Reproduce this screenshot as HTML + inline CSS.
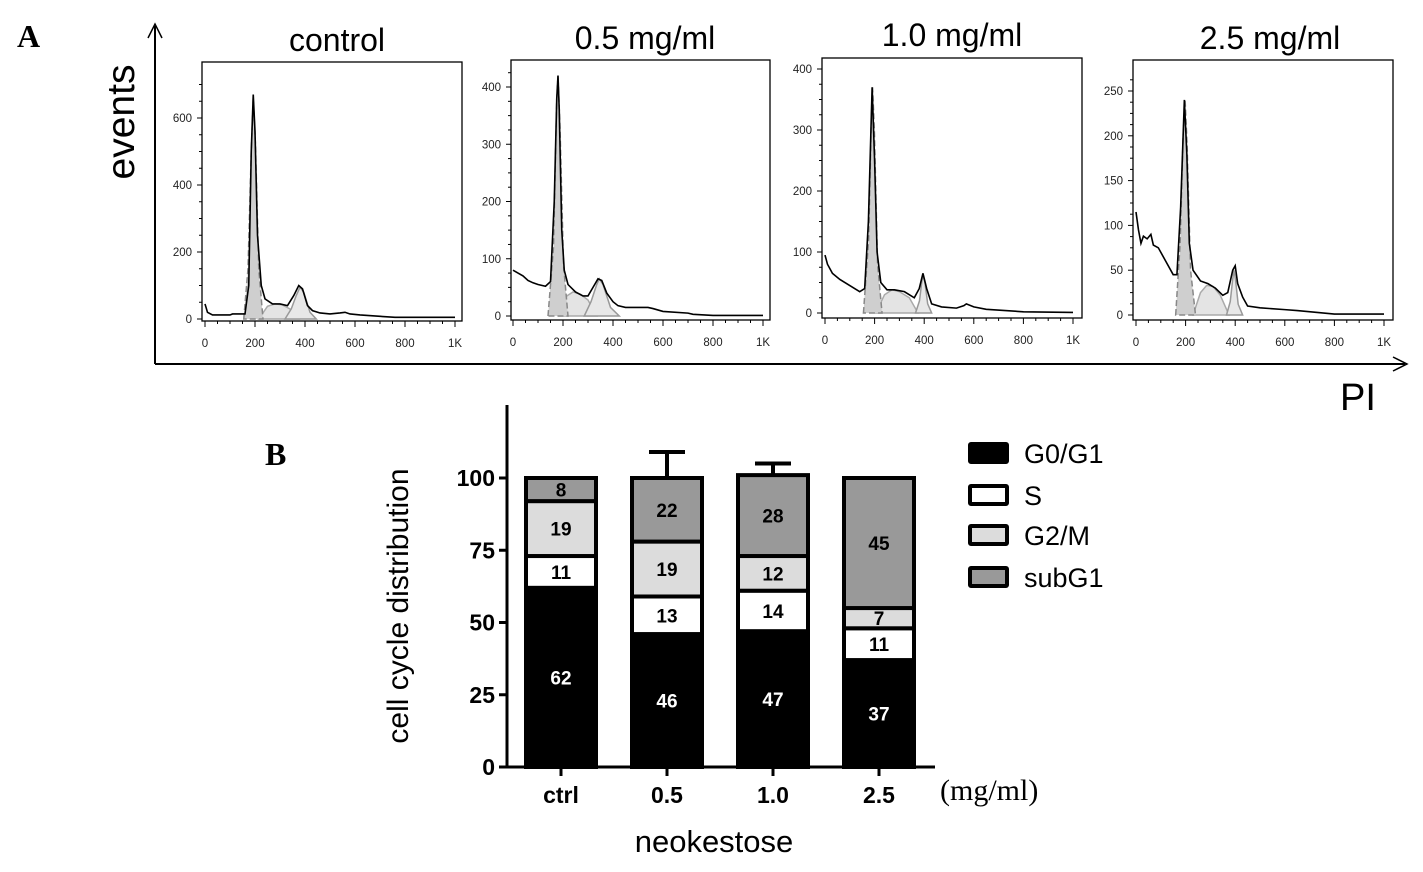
<!DOCTYPE html>
<html><head><meta charset="utf-8"><style>
html,body{margin:0;padding:0;background:#fff;}
svg{display:block;font-family:"Liberation Sans",sans-serif;}
</style></head><body>
<svg id="fig" width="1423" height="872" viewBox="0 0 1423 872" xmlns="http://www.w3.org/2000/svg">
<text x="17" y="47" font-family="Liberation Serif" font-weight="bold" font-size="32">A</text>
<g>
<line x1="155" y1="26" x2="155" y2="364" stroke="#000" stroke-width="2"/>
<polyline points="148,38 155,24 162,38" fill="none" stroke="#000" stroke-width="1.5"/>
<line x1="155" y1="364" x2="1405" y2="364" stroke="#000" stroke-width="2"/>
<polyline points="1393,357 1407,364 1393,371" fill="none" stroke="#000" stroke-width="1.5"/>
</g>
<text transform="translate(134,122) rotate(-90)" text-anchor="middle" font-size="39">events</text>
<text x="1340" y="410" font-size="38">PI</text>
<g id="hists"></g>
<text x="265" y="465" font-family="Liberation Serif" font-weight="bold" font-size="32">B</text>
<g id="bars"></g>
</svg>
<script>
const NS='http://www.w3.org/2000/svg';
function mk(tag,attrs,parent){const e=document.createElementNS(NS,tag);for(const k in attrs)e.setAttribute(k,attrs[k]);parent.appendChild(e);return e;}

// ---------- Panel A histogram data ----------
const histTitles=['control','0.5 mg/ml','1.0 mg/ml','2.5 mg/ml'];
const histYMax=[700,440,410,270];
const histYStep=[200,100,100,50];
const histXTicks=[0,200,400,600,800,1000];
const histXTickLabels=['0','200','400','600','800','1K'];
// histogram line (channel, events)
const lineCh1=[0,10,30,100,110,160,175,185,193,200,210,225,240,270,300,330,355,375,390,410,430,460,500,540,560,580,620,700,760,1000];
const lineV1=[45,20,12,12,15,15,100,500,670,560,250,100,60,45,45,40,70,100,90,40,25,18,15,18,20,15,12,8,5,5];
const lineCh2=[0,20,40,60,80,100,130,150,165,175,180,185,195,205,220,250,280,300,320,340,355,375,400,420,450,500,540,560,600,700,720,800,1000];
const lineV2=[80,75,70,62,58,55,52,60,200,380,420,360,150,80,55,42,35,35,50,65,62,40,25,18,15,15,15,13,8,5,3,1,1];
const lineCh3=[0,10,30,60,100,140,160,175,190,200,210,225,250,280,320,360,380,395,410,430,470,530,560,570,600,650,800,1000];
const lineV3=[95,80,65,55,45,35,40,150,370,250,100,50,38,38,35,25,40,65,40,15,10,8,12,15,10,6,2,1];
const lineCh4=[0,10,20,30,45,60,70,90,120,150,165,180,195,205,215,230,260,290,320,350,370,390,400,410,430,450,500,600,650,800,1000];
const lineV4=[115,95,80,88,85,90,78,75,60,45,45,120,240,180,80,50,38,35,30,22,25,50,55,35,20,10,8,6,5,1,1];
// fitted components
const g1Ch1=[155,172,185,193,202,215,232],g1V1=[0,150,500,660,520,150,0];
const sCh1=[215,250,280,310,340,375],sV1=[0,38,45,42,30,0];
const g2Ch1=[320,345,365,380,395,420,445],g2V1=[0,30,70,95,80,20,0];
const g1Ch2=[140,162,175,180,188,202,220],g1V2=[0,120,380,420,330,90,0];
const sCh2=[185,215,240,270,300,335],sV2=[0,35,42,38,28,0];
const g2Ch2=[285,312,335,345,360,390,425],g2V2=[0,25,55,65,55,15,0];
const g1Ch3=[155,176,187,192,199,212,230],g1V3=[0,120,320,370,300,80,0];
const sCh3=[205,240,270,300,340,375],sV3=[0,30,38,35,25,0];
const g2Ch3=[365,381,390,395,403,414,430],g2V3=[0,20,50,62,50,15,0];
const g1Ch4=[160,178,190,198,206,220,240],g1V4=[0,80,200,240,190,50,0];
const sCh4=[230,260,285,310,340,375],sV4=[0,25,33,32,22,0];
const g2Ch4=[365,380,390,395,401,412,430],g2V4=[0,15,40,50,40,12,0];

const hLine=[[lineCh1,lineV1],[lineCh2,lineV2],[lineCh3,lineV3],[lineCh4,lineV4]];
const hG1=[[g1Ch1,g1V1],[g1Ch2,g1V2],[g1Ch3,g1V3],[g1Ch4,g1V4]];
const hS=[[sCh1,sV1],[sCh2,sV2],[sCh3,sV3],[sCh4,sV4]];
const hG2=[[g2Ch1,g2V1],[g2Ch2,g2V2],[g2Ch3,g2V3],[g2Ch4,g2V4]];
// layout (pixel geometry, not data)
const boxes=[{l:202,r:462,t:62,b:321,x0:205,x1:455,y0:319,ymaxPx:118,ymaxRef:600,tx:337,ty:51},
 {l:511,r:770,t:60,b:320,x0:513,x1:763,y0:316,ymaxPx:87,ymaxRef:400,tx:645,ty:49},
 {l:822,r:1082,t:58,b:318,x0:825,x1:1073,y0:313,ymaxPx:69,ymaxRef:400,tx:952,ty:46},
 {l:1133,r:1393,t:60,b:320,x0:1136,x1:1384,y0:315,ymaxPx:91,ymaxRef:250,tx:1270,ty:49}];

const hg=document.getElementById('hists');
boxes.forEach((B,i)=>{
  const g=mk('g',{},hg);
  
  
  const sx=c=>B.x0+(B.x1-B.x0)*c/1000;
  const sy=v=>B.y0-(B.y0-B.ymaxPx)*v/B.ymaxRef;
  const t=mk('text',{x:B.tx,y:B.ty,'text-anchor':'middle','font-size':'32'},g);t.textContent=histTitles[i];
  
  
  const fillPath=(d,fill,stroke,dash)=>{
    const [ch,v]=d;let p='M'+sx(ch[0])+','+sy(0);
    ch.forEach((c,k)=>{p+=' L'+sx(c)+','+sy(v[k]);});
    p+=' L'+sx(ch[ch.length-1])+','+sy(0)+'Z';
    const e=mk('path',{d:p,fill:fill,stroke:stroke,'stroke-width':1.5},g);
    if(dash)e.setAttribute('stroke-dasharray',dash);
    return e;
  };
  const s=fillPath(hS[i],'#e4e4e4','#aaa');
  const g2=fillPath(hG2[i],'#e8e8e8','#999');
  const g1=fillPath(hG1[i],'#cfcfcf','#888','6,3');
  const [lc,lv]=hLine[i];
  const ln=mk('polyline',{points:lc.map((c,k)=>sx(c)+','+sy(lv[k])).join(' '),fill:'none',stroke:'#000','stroke-width':1.6},g);
  
  
  const r=mk('rect',{x:B.l,y:B.t,width:B.r-B.l,height:B.b-B.t,fill:'none',stroke:'#000','stroke-width':1.3},g);
  
  
  for(let v=0;v<=histYMax[i];v+=histYStep[i]/4){
    const y=sy(v);if(y<B.t)break;
    mk('line',{x1:B.l-(v%histYStep[i]===0?5:3),x2:B.l,y1:y,y2:y,stroke:'#000','stroke-width':1},g);
    if(v%histYStep[i]===0){const tt=mk('text',{x:B.l-10,y:y+4,'text-anchor':'end','font-size':'11.5',fill:'#222'},g);tt.textContent=v;
      }
  }
  for(let c=0;c<=1000;c+=50){
    const x=sx(c);mk('line',{x1:x,x2:x,y1:B.b,y2:B.b+(c%200===0?6:3),stroke:'#000','stroke-width':1},g);
  }
  histXTicks.forEach((c,k)=>{const tt=mk('text',{x:sx(c),y:B.b+26,'text-anchor':'middle','font-size':'11.5',fill:'#222'},g);tt.textContent=histXTickLabels[k];
    });
});

// ---------- Panel B stacked bars ----------
const barCats=['ctrl','0.5','1.0','2.5'];
const valG0=[62,46,47,37];
const valS=[11,13,14,11];
const valG2M=[19,19,12,7];
const valSub=[8,22,28,45];
const errTop=[100,109,105,100];
const yTicks=[0,25,50,75,100];
const segNames=['G0/G1','S','G2/M','subG1'];
const segFills=['#000','#fff','#dcdcdc','#999'];
const segText=['#fff','#000','#000','#000'];

const bg=document.getElementById('bars');
const Y0=767,PX=2.89,barW=70,xLeft=507;
const ys=v=>Y0-v*PX;
const xc=i=>561+i*106;
const ax=mk('path',{d:`M${xLeft},405 L${xLeft},${Y0} L935,${Y0}`,fill:'none',stroke:'#000','stroke-width':3},bg);


yTicks.forEach(v=>{
  mk('line',{x1:xLeft-8,x2:xLeft,y1:ys(v),y2:ys(v),stroke:'#000','stroke-width':3},bg);
  const t=mk('text',{x:xLeft-12,y:ys(v)+8,'text-anchor':'end','font-size':'23','font-weight':'bold'},bg);t.textContent=v;
  
  
});
const series=[valG0,valS,valG2M,valSub];
barCats.forEach((c,i)=>{
  const x=xc(i);
  mk('line',{x1:x,x2:x,y1:Y0,y2:Y0+9,stroke:'#000','stroke-width':3},bg);
  const lbl=mk('text',{x:x,y:803,'text-anchor':'middle','font-size':'23','font-weight':'bold'},bg);lbl.textContent=c;
  
  
  const tot=valG0[i]+valS[i]+valG2M[i]+valSub[i];
  if(errTop[i]>tot+0.5){
    const e=mk('path',{d:`M${x},${ys(tot)} L${x},${ys(errTop[i])} M${x-18},${ys(errTop[i])} L${x+18},${ys(errTop[i])}`,stroke:'#000','stroke-width':4,fill:'none'},bg);
    
    
  }
  let cum=0;
  series.forEach((arr,k)=>{
    const v=arr[i];
    const r=mk('rect',{x:x-barW/2,y:ys(cum+v),width:barW,height:v*PX,fill:segFills[k],stroke:'#000','stroke-width':4},bg);
    
    
    const t=mk('text',{x:x,y:ys(cum+v/2)+7,'text-anchor':'middle','font-size':'19','font-weight':'bold',fill:segText[k]},bg);t.textContent=v;
    
    
    cum+=v;
  });
});
const ut=mk('text',{x:940,y:800,'font-family':'Liberation Serif','font-size':'30'},bg);ut.textContent='(mg/ml)';


const xt=mk('text',{x:714,y:852,'text-anchor':'middle','font-size':'31'},bg);xt.textContent='neokestose';


const yt=mk('text',{transform:'translate(408,606) rotate(-90)','text-anchor':'middle','font-size':'30'},bg);yt.textContent='cell cycle distribution';


const legY=[442,484,524,566];
segNames.forEach((n,k)=>{
  const g=mk('g',{},bg);
  
  
  mk('rect',{x:970,y:legY[k]+2,width:37,height:18,fill:segFills[k],stroke:'#000','stroke-width':4,rx:1},g);
  const t=mk('text',{x:1024,y:legY[k]+21,'font-size':'27'},g);t.textContent=n;
});
</script>
</body></html>
